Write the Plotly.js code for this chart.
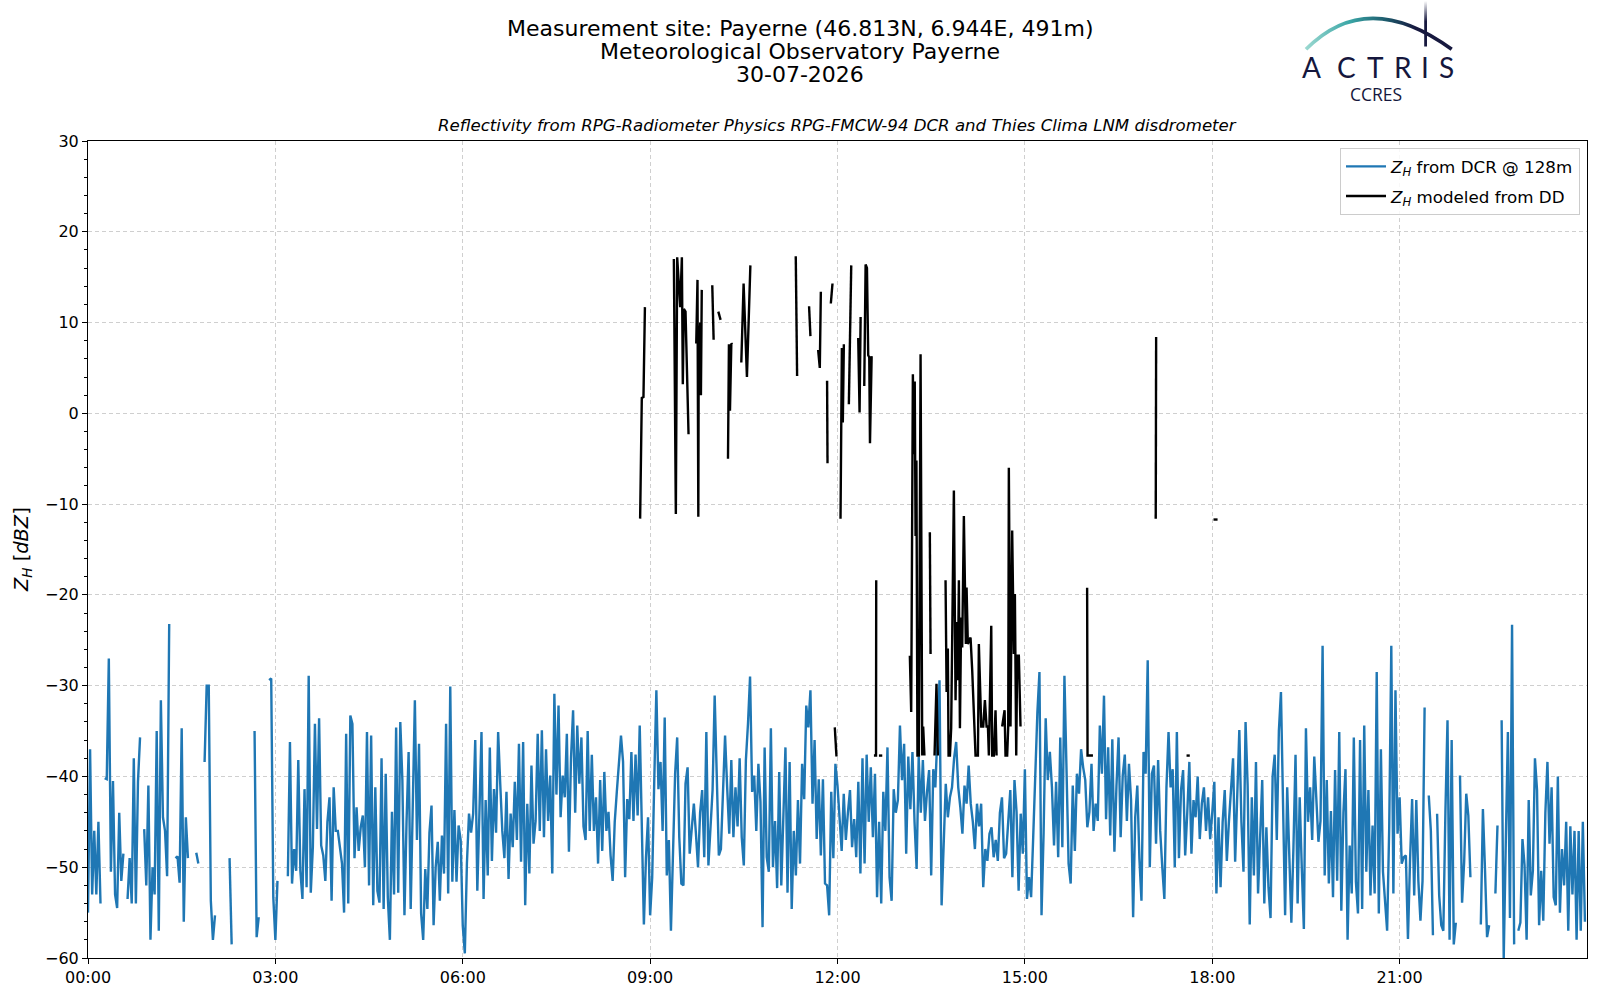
<!DOCTYPE html>
<html>
<head>
<meta charset="utf-8">
<script src="https://cdn.plot.ly/plotly-3.0.1.min.js"></script>
<style>html,body{margin:0;padding:0;background:#fff;}#chart{width:1600px;height:1000px;}</style>
</head>
<body>
<div id="chart"></div>
<script>
// ---------------- DATA ----------------
// Z_H from DCR @ 128m, 2-minute samples, one array per 3 hours (90 values each)
const dcr00 = [
 -55,-37,-53,-46,-53,-45,-54,null,-40.2,-40.3,-27,-50.5,-40.5,-53,-54.5,-44,-51.5,-48.5,null,-53.5,-49,-54,-38,-54,-40.6,-35.7,null,-45.8,-52,-41,
 -58,-50,-53,-35,-57,-31.6,-44.5,-46,-51,-23.2,null,null,-49,-48.8,-51.7,-34.7,-56,-44.5,-49,null,null,null,-48.4,-49.6,null,null,-38.4,-30,-30,-53.7,
 -58,-55.3,null,null,null,null,null,null,-49,-58.5,null,null,null,null,null,null,null,null,null,null,-35,-57.7,-55.5,null,null,null,null,-29.4,-29.2,-53.3];
const dcr03 = [
 -58,-51.5,null,null,null,null,-51,-36.2,-51.8,-48,-50.4,-38.2,-50.4,-53.5,-41.4,-52.2,-28.9,-52.8,-47.8,-34.2,-45.8,-33.6,-47.6,-48.7,-51.5,-45,-42.3,-53.7,-41.2,-46,
 -46,-47.8,-49.6,-55,-35.3,-54,-33.3,-34.2,-49,-43.4,-48.2,-45.6,-44.3,-50,-35.1,-52,-35.5,-54.2,-41.2,-52.6,-53.9,-38,-54.6,-39.7,-53.3,-58,-43.9,-53,-34.6,-52.8,
 -34,-40.4,-55.3,-45,-37.3,-54.6,-41.2,-31.6,-47,-36.4,-55.1,-58,-50.2,-54.6,-46.2,-43.2,-56.4,-50,-47.2,-53.7,-46.5,-50.7,-34.2,-52.9,-30.1,-51.6,-43.7,-51.6,-45.4,-47];
const dcr06 = [
 -56.4,-59.5,-49.6,-44.1,-46.2,-44.1,-36,-52.6,-44,-35.1,-53.5,-42.6,-50.9,-36.8,-49.3,-41.4,-46.2,-35.1,-40.8,-46,-49,-41.7,-51.3,-44.1,-47.8,-40.6,-47,-36.4,-49.4,-36.2,
 -54.2,-43,-50.7,-38.8,-47.4,-44.9,-35.3,-46,-34.9,-46.7,-37,-44.9,-39.9,-50.7,-30.9,-42,-32.2,-44.5,-39.9,-42.3,-35.3,-48.3,-38,-32.7,-44,-34.4,-40.8,-35.7,-45.5,-47,
 -35,-46,-37.6,-46,-42.3,-49.6,-40.4,-48.2,-39.5,-46,-43.9,-48.7,-51.5,-45,-41.7,-39,-35.5,-38.4,-51.1,-42.5,-44.7,-37.3,-44.9,-37.6,-44.3,-34.4,-45.8,-56.3,-49,-44.5];
const dcr09 = [
 -55.3,-51.1,-40.3,-30.5,-41.4,-38.4,-46,-33.5,-50.9,-47,-57,-48.5,-39.7,-35.7,-46.7,-51.8,-52,-40.8,-39,-48.5,-45.5,-43,-46.3,-50,-44,-41.5,-48.9,-35.1,-49.8,-46,
 -41.5,-31.1,-40,-48.7,-48,-40.6,-35.5,-41.2,-46.3,-38.2,-46.7,-41.2,-45.5,-38,-46.7,-49.8,-38.2,-34.2,-29,-41.7,-39.9,-46,-38.6,-42.8,-56.6,-36.8,-48.9,-50.5,-34.7,-50,
 -44.9,-52.3,-39.5,-52,-43.4,-36.8,-52.8,-38.4,-54.6,-46,-50.9,-42.6,-49.6,-38.6,-42.5,-32.2,-34.6,-30.5,-43,-36,-46.9,-40.3,-48.7,-40.3,-51.8,-52,-55.3,-41.7,-49,-38.6];
const dcr12 = [
 -41,-44.1,-48.2,-41.9,-47,-44,-41.5,-47.8,-44.7,-48.9,-40.6,-50.7,-38,-49.6,-37.6,-45,-39,-46.7,-39.7,-53.3,-45,-54,-41.7,-46,-36.8,-51.1,-53.7,-41.4,-44,-42.6,
 -34.4,-40.4,-36.4,-48.5,-37.8,-43.6,-37.3,-45,-50.2,-37.8,-44,-38.2,-44.9,-41.7,-39.3,-50.9,-39.2,-41.2,-35,-29.4,-54.2,-47.4,-40.8,-44.5,-42.3,-41.2,-38,-36.2,-41.2,-43.4,
 -46.3,-41,-43,-38.8,-43,-45,-48,-43,-45.5,-43,-52.2,-48,-49.3,-46.3,-45.6,-48.9,-47,-49.3,-44,-42.3,-49,-48.5,-45,-41.5,-51.1,-40.4,-43.9,-52.6,-44.1,-48.5];
const dcr15 = [
 -39.2,-53.5,-51.1,-53.3,-46.7,-39.7,-33,-28.5,-55.3,-46.2,-33.6,-40.4,-37.3,-41.2,-47.6,-40.6,-48.9,-35.7,-47.8,-28.9,-40.4,-49.6,-51.8,-41,-48.2,-39.7,-41.9,-37,-39,-40.4,
 -45.6,-43.9,-38.6,-46,-43,-44.9,-34.4,-39.7,-31.1,-44.7,-36.8,-46.5,-35.9,-48.3,-41,-35.7,-46.7,-39.9,-37.6,-44.9,-38.6,-42.6,-55.5,-44.5,-41,-49,-53.7,-37.3,-39.7,-27.2,
 -50,-39.7,-38.8,-47.4,-38.2,-46,-50,-53.5,-41.2,-35.1,-41.2,-39.2,-50,-35.1,-49,-41.5,-39.3,-48.7,-44,-38.4,-48.5,-42.6,-44.5,-40,-46.9,-43,-41.2,-46,-42.3,-46.9];
const dcr18 = [
 -44,-40.6,-52.9,-44.5,-52.2,-45,-41.5,-49.3,-45,-42,-38,-49.4,-41,-34.9,-45,-50.5,-34,-41,-56.3,-42.3,-50.9,-38.4,-52.9,-47,-40.4,-54,-45.6,-52.2,-55.6,-40,
 -37.6,-47,-35,-30.7,-45,-55.3,-41.2,-50,-56.1,-47.8,-37.6,-54,-42.3,-50,-56.8,-34.7,-45,-41.2,-47,-37.8,-43.4,-47.2,-44.9,-25.6,-50.9,-40.4,-51.8,-43.8,-53.3,-39.3,
 -51.5,-35.1,-54.8,-44,-39.2,-58,-47.6,-52.9,-35.7,-51.6,-55.1,-36,-54.6,-34.4,-50.5,-41.5,-53.1,-45.4,-52.9,-28.5,-55.1,-37,-50.5,-53.9,-57,-45.6,-25.6,-52.9,-30.5,-46.3];
const dcr21 = [
 -42.3,-49.6,-48.9,-48.7,-57.9,-49.3,-42.5,-53.1,-42.6,-51.5,-55.9,-51.5,-32.4,null,-42.1,-46,-57.5,null,-44.1,-53.1,-56.4,-57,-43.8,-33.8,-58,-36,-58.5,-56.1,null,-39.9,
 -53.9,-49.4,-41.9,-44.3,-51.1,null,null,null,null,-56.3,-43.6,-50.2,-57.7,-56.4,null,null,-52.9,-45.4,null,-33.8,-60,-47.2,-35.1,-55.6,-23.3,-58.5,null,-57,-56.1,-46.9,
 -49.8,-58,-42.6,-53.1,-50.4,-38,-41.5,-56.4,-50.4,-55.9,-44,-38.4,-47.4,-41.2,-53.3,-54.2,-40,-55,-48,-52,-45,-57,-45.5,-53,-46,-58,-46,-57,-45,-56];
const dcrBlocks = [dcr00, dcr03, dcr06, dcr09, dcr12, dcr15, dcr18, dcr21];
const dcrStepMin = 2;

// Z_H modeled from disdrometer: minutes after midnight, null = gap
const ddMinutes = [
 530.4,532,533.6,535,null,
 562.8,564.7,566,568.9,570.5,571.4,572.4,574,576.9,null,
 584.3,585.5,586.3,586.7,587.5,588.1,588.8,589.6,null,
 599.7,601,null, 605.5,607.7,null,
 614.8,615.7,616.7,618,618.9,null,
 627.6,629.8,633,636.3,null,
 679.9,681.2,null, 692.7,694,null,
 701.4,703,704,null, 710,710.4,null, 713.6,715.2,null,
 717.4,719,null,
 722.9,724.2,725.1,726.1,null,
 730.9,733.2,null, 739.9,741.2,742.2,null,
 745.7,747,748.3,749.5,750.5,751.2,752.8,null,
 755,757,757.2,null, 759.8,763,null,
 789.5,790.8,792.4,793.4,794.2,795,795.8,796.8,798.2,799.8,801.4,802.3,803.5,null,
 808.7,809.4,null, 813.2,815.1,816.4,null,
 823.8,824.8,826,826.7,828,829.2,831.8,833.4,834.4,835.6,836.6,837.6,838.8,839.8,841.4,843.3,844,845.2,847.8,849.4,
 852.6,854.9,855.8,858.1,860,861.6,863.2,864.5,865.4,867.7,868.6,870.2,871.8,872.8,null,
 878.2,880.5,881.4,883,884,884.6,886.2,887.8,889.4,890.4,891.7,892.6,894.2,895.8,null,
 959.8,960.2,965.4,null,
 1025.7,1026.1,null,
 1055.3,1058.4,null,
 1081.2,1085.1];
const ddZh = [
 -11.6,1.7,1.8,11.7,null,
 17.0,-11.1,17.2,11.7,17.2,3.2,11.5,11.2,-2.3,null,
 7.7,14.7,-11.4,9.6,7.7,10,2.0,13.6,null,
 14.1,8.1,null, 11.2,10.3,null,
 -5,7.6,0.3,7.7,7.6,null,
 5.6,14.3,4.0,16.3,null,
 17.3,4.1,null, 11.8,8.5,null,
 7.0,5.0,13.4,null, 3.6,-5.5,null, 12.1,14.3,null,
 -34.6,-37.8,null,
 -11.6,7.2,-1.0,7.6,null,
 1.0,16.3,null, 8.3,0.1,10.6,null,
 3.0,16.4,16.0,6.4,6.2,-3.3,6.3,null,
 -37.7,-37.7,-18.4,null, -37.7,-37.7,null,
 -26.7,-32.9,4.3,-4.5,3.5,-13.5,-5.2,-37.7,-37.7,6.5,-37.7,-34.5,-37.7,null,
 -13.1,-26.5,null, -37.7,-29.8,-37.7,null,
 -18.4,-30.7,-25.9,-37.7,-37.7,-34.7,-8.5,-31.6,-23,-29.4,-18.4,-34.7,-22.5,-25.8,-11.3,-25.4,-19.2,-25.4,-24.7,-28.3,
 -37.7,-37.7,-25.4,-34.5,-34.5,-31.6,-34.5,-34.5,-37.7,-23.4,-37.7,-37.7,-32.7,-37.7,null,
 -34.5,-32.7,-37.7,-37.7,-34.5,-6.0,-34.5,-12.9,-26.5,-19.9,-37.7,-26.7,-26.7,-34.5,null,
 -19.2,-37.7,-37.7,null,
 -11.6,8.4,null,
 -37.7,-37.7,null,
 -11.7,-11.7];

const xTickVals = [0, 3, 6, 9, 12, 15, 18, 21];
const xTickText = ['00:00', '03:00', '06:00', '09:00', '12:00', '15:00', '18:00', '21:00'];
const yTickVals = [-60, -50, -40, -30, -20, -10, 0, 10, 20, 30];

const titleLines = ['Measurement site: Payerne (46.813N, 6.944E, 491m)', 'Meteorological Observatory Payerne', '30-07-2026'];
const subTitle = 'Reflectivity from RPG-Radiometer Physics RPG-FMCW-94 DCR and Thies Clima LNM disdrometer';
const seriesNames = ['<i>Z</i><sub><i>H</i></sub> from DCR @ 128m', '<i>Z</i><sub><i>H</i></sub> modeled from DD'];
const yTitle = '<i>Z</i><sub><i>H</i></sub> [<i>dBZ</i>]';

// ---------------- BUILD ----------------
const dcrX = [], dcrY = [];
dcrBlocks.forEach(function (blk, k) {
  blk.forEach(function (v, i) {
    dcrX.push(3 * k + i * dcrStepMin / 60);
    dcrY.push(v);
  });
});
const ddX = ddMinutes.map(function (m) { return m === null ? null : m / 60; });

// plot box in pixels
const L = 88, R = 1587, T = 141, B = 958;
const W = R - L, H = B - T;
function px(x) { return (x - L) / W; }
function py(y) { return (B - y) / H; }

const FONT = 'DejaVu Sans, Liberation Sans, sans-serif';

const traces = [
  { x: dcrX, y: dcrY, type: 'scatter', mode: 'lines', name: seriesNames[0], legendgroup: 'a',
    line: { color: '#1f77b4', width: 2.4 }, connectgaps: false },
  { x: ddX, y: ddZh, type: 'scatter', mode: 'lines', name: seriesNames[1], legendgroup: 'b',
    line: { color: '#000000', width: 2.4 }, connectgaps: false }
];

const navy = '#15173d';
const annotations = [];
const titleY = [28.6, 51.2, 74.4];
titleLines.forEach(function (t, i) {
  annotations.push({ text: t, xref: 'paper', yref: 'paper', x: px(800), y: py(titleY[i]),
    xanchor: 'center', yanchor: 'middle', showarrow: false, font: { family: FONT, size: 22, color: '#000' } });
});
annotations.push({ text: '<i>' + subTitle + '</i>', xref: 'paper', yref: 'paper', x: 0.5, y: py(125.5),
  xanchor: 'center', yanchor: 'middle', showarrow: false, font: { family: FONT, size: 16.6, color: '#000' } });
annotations.push({ text: yTitle, xref: 'paper', yref: 'paper', x: px(22.5), y: 0.5, textangle: -90,
  xanchor: 'center', yanchor: 'middle', showarrow: false, font: { family: FONT, size: 19.4, color: '#000' } });

// logo letters
const logoLetters = ['A', 'C', 'T', 'R', 'I', 'S'];
const logoX = [1311.5, 1346, 1375.5, 1403, 1425.3, 1446];
logoLetters.forEach(function (c, i) {
  annotations.push({ text: c, xref: 'paper', yref: 'paper', x: px(logoX[i]), y: py(66.8),
    xanchor: 'center', yanchor: 'middle', showarrow: false, font: { family: 'Lato, sans-serif', size: 28, color: navy } });
});
annotations.push({ text: 'CCRES', xref: 'paper', yref: 'paper', x: px(1376), y: py(94),
  xanchor: 'center', yanchor: 'middle', showarrow: false, font: { family: 'Open Sans, sans-serif', size: 17.5, color: navy } });

const arcSvg = "<svg xmlns='http://www.w3.org/2000/svg' width='180' height='60' viewBox='0 0 180 60'>" +
  "<defs><linearGradient id='g' x1='16' y1='0' x2='162' y2='0' gradientUnits='userSpaceOnUse'>" +
  "<stop offset='0' stop-color='#9ad8d0'/><stop offset='0.3' stop-color='#3aa6a6'/><stop offset='0.55' stop-color='#1d5a6c'/>" +
  "<stop offset='0.75' stop-color='#17193f'/><stop offset='1' stop-color='#17193f'/></linearGradient>" +
  "<linearGradient id='v' x1='0' y1='0' x2='0' y2='1'><stop offset='0' stop-color='#17193f' stop-opacity='0'/>" +
  "<stop offset='0.45' stop-color='#17193f' stop-opacity='1'/><stop offset='1' stop-color='#17193f' stop-opacity='1'/></linearGradient></defs>" +
  "<path d='M16,49.3 Q77.15,-12.7 161.7,49.3' fill='none' stroke='url(#g)' stroke-width='3.6'/>" +
  "<rect x='134.2' y='1' width='2.8' height='45.5' fill='url(#v)'/></svg>";

const layout = {
  width: 1600, height: 1000,
  margin: { l: L, r: 1600 - R, t: T, b: 1000 - B, pad: 0 },
  paper_bgcolor: '#ffffff', plot_bgcolor: '#ffffff',
  font: { family: FONT, size: 16, color: '#000' },
  showlegend: true,
  legend: { x: px(1580), y: py(148), xanchor: 'right', yanchor: 'top',
    traceorder: 'grouped', tracegroupgap: 5, itemwidth: 40,
    bgcolor: 'rgba(255,255,255,0.85)', bordercolor: '#cccccc', borderwidth: 1,
    font: { family: FONT, size: 16.7, color: '#000' } },
  xaxis: { range: [0, 24], tickmode: 'array', tickvals: xTickVals, ticktext: xTickText,
    showgrid: true, gridcolor: '#cfcfcf', griddash: '4px,3px', gridwidth: 1,
    showline: true, linecolor: '#000', linewidth: 1, mirror: true, zeroline: false,
    ticks: 'outside', ticklen: 5, tickwidth: 1, tickcolor: '#000',
    tickfont: { family: FONT, size: 16, color: '#000' } },
  yaxis: { range: [-60, 30], tickmode: 'array', tickvals: yTickVals,
    showgrid: true, gridcolor: '#cfcfcf', griddash: '4px,3px', gridwidth: 1,
    showline: true, linecolor: '#000', linewidth: 1, mirror: true, zeroline: false,
    ticks: 'outside', ticklen: 5, tickwidth: 1, tickcolor: '#000',
    minor: { dtick: 2, ticks: 'outside', ticklen: 3, tickcolor: '#000', showgrid: false },
    tickfont: { family: FONT, size: 16, color: '#000' } },
  annotations: annotations,
  images: [{ source: 'data:image/svg+xml;charset=utf-8,' + encodeURIComponent(arcSvg),
    xref: 'paper', yref: 'paper', x: px(1290), y: py(0), sizex: 180 / W, sizey: 60 / H,
    xanchor: 'left', yanchor: 'top', sizing: 'stretch', layer: 'above' }]
};

Plotly.newPlot('chart', traces, layout, { staticPlot: true, displayModeBar: false });
</script>
</body>
</html>
